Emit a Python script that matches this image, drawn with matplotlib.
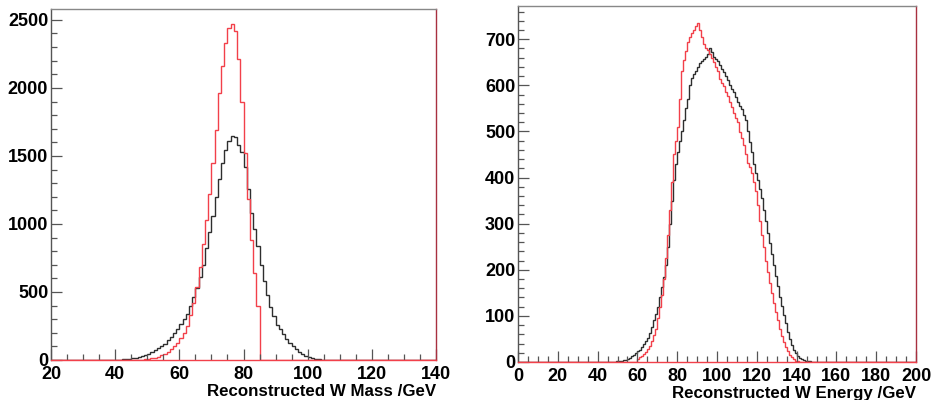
import numpy as np
import matplotlib
matplotlib.use("Agg")
import matplotlib.pyplot as plt
from matplotlib.ticker import MultipleLocator

# Reconstructed W mass, 1 GeV bins, first bin lower edge given by *_start
mass_black_start = 40
mass_black = [2, 3, 5, 7, 10, 14, 18, 24, 30, 38,
              46, 56, 70, 85, 100, 120, 145, 170, 200, 230,
              265, 300, 340, 400, 460, 530, 610, 700, 820, 940,
              1060, 1200, 1330, 1450, 1540, 1610, 1650, 1640, 1580, 1530,
              1420, 1260, 1080, 960, 840, 700, 580, 480, 390, 320,
              260, 230, 190, 155, 125, 100, 80, 60, 45, 32,
              22, 14, 9, 5, 3, 1]
mass_red_start = 49
mass_red = [5, 8, 12, 18, 25, 35, 45, 60, 80, 100,
            125, 160, 200, 250, 330, 420, 540, 680, 850, 1030,
            1220, 1450, 1690, 1960, 2160, 2330, 2440, 2470, 2420, 2210,
            1900, 1520, 1180, 880, 640, 400]

# Reconstructed W energy, 1 GeV bins
energy_black_start = 47
energy_black = [1, 1, 2, 2, 3, 3, 4, 5, 7, 9,
                12, 15, 19, 23, 27, 32, 38, 45, 53, 62,
                75, 90, 105, 120, 140, 162, 185, 210, 250, 300,
                350, 395, 430, 455, 480, 500, 525, 550, 570, 600,
                615, 625, 632, 640, 648, 652, 657, 662, 668, 682,
                672, 662, 658, 652, 645, 636, 628, 620, 612, 600,
                592, 586, 575, 564, 556, 548, 536, 525, 500, 478,
                455, 430, 410, 395, 375, 355, 330, 305, 280, 258,
                235, 210, 186, 164, 142, 122, 102, 84, 66, 50,
                37, 27, 19, 13, 8, 6, 4, 3, 2, 2,
                1, 1, 1]
energy_red_start = 60
energy_red = [6, 10, 14, 18, 22, 28, 35, 45, 58, 72,
              95, 120, 145, 180, 225, 275, 330, 390, 450, 480,
              510, 570, 630, 655, 675, 695, 705, 713, 720, 728,
              736, 720, 705, 690, 682, 676, 668, 660, 650, 640,
              632, 614, 605, 598, 585, 576, 564, 552, 540, 530,
              520, 498, 485, 470, 450, 432, 422, 410, 390, 370,
              340, 305, 275, 250, 220, 195, 172, 150, 128, 108,
              90, 72, 57, 44, 33, 24, 16, 10, 6, 3,
              2, 1]

BLACK = "#2e2e2e"
RED = "#f2404a"
plt.rcParams["font.family"] = ["Liberation Sans", "DejaVu Sans"]
plt.rcParams["font.weight"] = "bold"


def full_hist(start, vals, lo, hi):
  #pad with zeros over the full axis range so the outline runs along zero
  counts = np.zeros(hi - lo)
  counts[start - lo:start - lo + len(vals)] = vals
  return counts, np.arange(lo, hi + 1)


def style_axis(ax, xmajor, ymajor, yminor):
  ax.xaxis.set_major_locator(MultipleLocator(xmajor))
  ax.xaxis.set_minor_locator(MultipleLocator(5))
  ax.yaxis.set_major_locator(MultipleLocator(ymajor))
  ax.yaxis.set_minor_locator(MultipleLocator(yminor))
  ax.tick_params(which="both", direction="in", top=False, right=False,
                 color="#555555", labelsize=13, width=0.9, pad=2)
  ax.tick_params(axis="x", which="both", pad=4)
  ax.tick_params(which="major", length=8)
  ax.tick_params(which="minor", length=4)
  ax.spines["top"].set_color("#888888")
  ax.spines["left"].set_color("#555555")
  ax.spines["right"].set_color("#a83040")
  ax.spines["bottom"].set_color(RED)
  for s in ax.spines.values():
    s.set_linewidth(1.0)
  for lab in ax.get_xticklabels() + ax.get_yticklabels():
    lab.set_fontweight("bold")


fig = plt.figure(figsize=(9.34, 4.0), dpi=100)
ax1 = fig.add_axes([51/934, 40/400, 385/934, 351/400])
ax2 = fig.add_axes([518/934, 38/400, 398/934, 356/400])

c, e = full_hist(mass_black_start, mass_black, 20, 140)
ax1.stairs(c, e, color=BLACK, lw=1.0)
c, e = full_hist(mass_red_start, mass_red, 20, 140)
ax1.stairs(c, e, color=RED, lw=1.0)
ax1.set_xlim(20, 140)
ax1.set_ylim(0, 2580)
style_axis(ax1, 20, 500, 100)
ax1.set_xlabel("Reconstructed W Mass /GeV", loc="right", fontsize=12.2,
               fontweight="bold", labelpad=1)

c, e = full_hist(energy_black_start, energy_black, 0, 200)
ax2.stairs(c, e, color=BLACK, lw=1.0)
c, e = full_hist(energy_red_start, energy_red, 0, 200)
ax2.stairs(c, e, color=RED, lw=1.0)
ax2.set_xlim(0, 200)
ax2.set_ylim(0, 772)
style_axis(ax2, 20, 100, 20)
ax2.set_xlabel("Reconstructed W Energy /GeV", loc="right", fontsize=12.2,
               fontweight="bold", labelpad=1)

fig.savefig("out.png", dpi=100)
